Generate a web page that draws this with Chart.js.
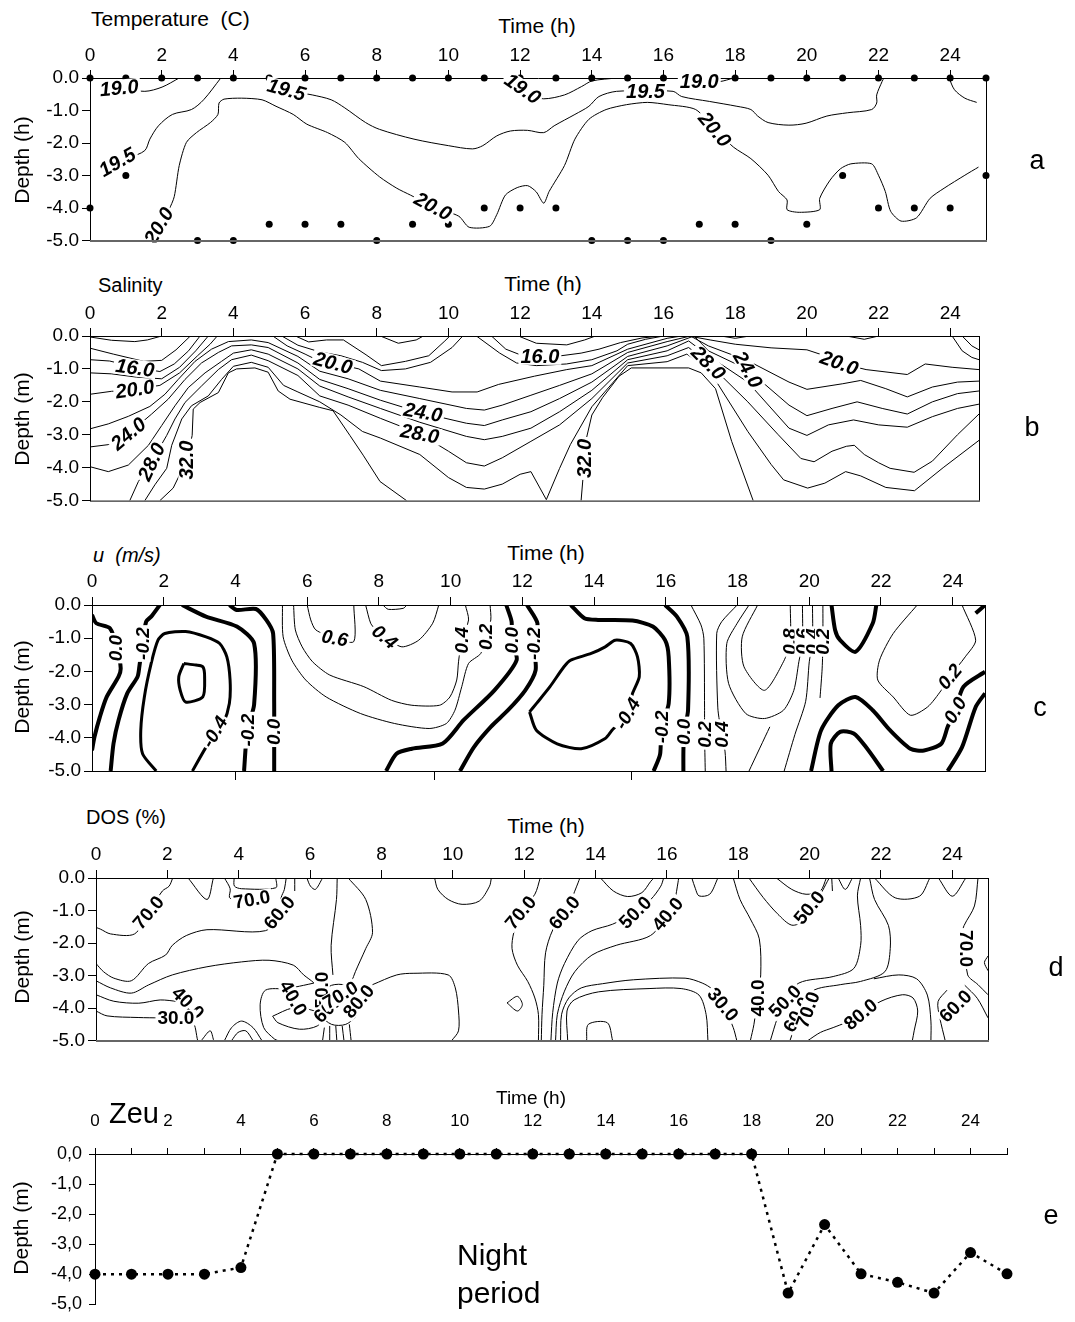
<!DOCTYPE html>
<html>
<head>
<meta charset="utf-8">
<script src="https://cdn.jsdelivr.net/npm/chart.js@4.4.1/dist/chart.umd.min.js"></script>
<style>
  body { margin: 0; background: #fff; }
  #page { position: relative; width: 1075px; height: 1322px; overflow: hidden; font-family: Arial, "Liberation Sans", sans-serif; }
  #page canvas { position: absolute; left: 0; }
  .lbl { position: absolute; white-space: nowrap; line-height: 1; color: #000; transform: translate(-50%, -50%); }
  .left { transform: translate(0, -50%); }
  .vert { transform: translate(-50%, -50%) rotate(-90deg); }
</style>
</head>
<body>
<div id="page">
  <canvas id="cA" width="1075" height="215" style="top:40px"></canvas>
  <canvas id="cB" width="1075" height="215" style="top:300px"></canvas>
  <canvas id="cC" width="1075" height="220" style="top:568px"></canvas>
  <canvas id="cD" width="1075" height="215" style="top:840px"></canvas>
  <canvas id="cE" width="1075" height="217" style="top:1105px"></canvas>

  <div class="lbl left" style="left:91px;top:18px;font-size:21px">Temperature&nbsp;&nbsp;(C)</div>
  <div class="lbl" style="left:537px;top:25px;font-size:21px">Time (h)</div>
  <div class="lbl vert" style="left:21px;top:160px;font-size:21px">Depth (h)</div>
  <div class="lbl" style="left:1037px;top:160px;font-size:27px">a</div>

  <div class="lbl left" style="left:98px;top:285px;font-size:20px">Salinity</div>
  <div class="lbl" style="left:543px;top:283px;font-size:21px">Time (h)</div>
  <div class="lbl vert" style="left:21px;top:419px;font-size:21px">Depth (m)</div>
  <div class="lbl" style="left:1032px;top:427px;font-size:27px">b</div>

  <div class="lbl left" style="left:93px;top:555px;font-size:20px;font-style:italic">u&nbsp;&nbsp;(m/s)</div>
  <div class="lbl" style="left:546px;top:552px;font-size:21px">Time (h)</div>
  <div class="lbl vert" style="left:21px;top:687px;font-size:21px">Depth (m)</div>
  <div class="lbl" style="left:1040px;top:707px;font-size:27px">c</div>

  <div class="lbl left" style="left:86px;top:817px;font-size:20px">DOS (%)</div>
  <div class="lbl" style="left:546px;top:825px;font-size:21px">Time (h)</div>
  <div class="lbl vert" style="left:21px;top:957px;font-size:21px">Depth (m)</div>
  <div class="lbl" style="left:1056px;top:967px;font-size:27px">d</div>

  <div class="lbl left" style="left:109px;top:1113px;font-size:29px">Zeu</div>
  <div class="lbl" style="left:531px;top:1097px;font-size:19px">Time (h)</div>
  <div class="lbl vert" style="left:20px;top:1228px;font-size:21px">Depth (m)</div>
  <div class="lbl left" style="left:457px;top:1255px;font-size:30px">Night</div>
  <div class="lbl left" style="left:457px;top:1293px;font-size:30px">period</div>
  <div class="lbl" style="left:1051px;top:1215px;font-size:27px">e</div>
</div>

<script>
// ---- axes ----
const timeTicks = [0, 2, 4, 6, 8, 10, 12, 14, 16, 18, 20, 22, 24];
const depthTicks = [0, -1, -2, -3, -4, -5];
const zeuHourTicks = [0,1,2,3,4,5,6,7,8,9,10,11,12,13,14,15,16,17,18,19,20,21,22,23,24,25];

// ---- a: temperature, sampling points ----
const tempSampleX = [0,1,2,3,4,5,6,7,8,9,10,11,12,13,14,15,16,17,18,19,20,21,22,23,24,25,
  0,1,3,4,5,6,7,8,9,10,11,12,13,14,15,16,17,18,19,20,21,22,23,24,25];
const tempSampleY = [0,0,0,0,0,0,0,0,0,0,0,0,0,0,0,0,0,0,0,0,0,0,0,0,0,0,
  -4,-3,-5,-5,-4.5,-4.5,-4.5,-5,-4.5,-4.5,-4,-4,-4,-5,-5,-5,-4.5,-4.5,-5,-4.5,-3,-4,-4,-4,-3];

// temperature isolines [hour, depth]
const t190a = [[0.8,-0.31],[1.53,-0.41],[2.01,-0.28],[2.49,0]];
const t195a = [[3.65,0],[3.17,-0.67],[2.83,-0.97],[2.3,-1.12],[1.91,-1.47],[1.67,-1.88],[1.53,-2.23],[1.1,-2.45],[0.76,-2.59]];
const t200a = [[1.75,-5],[1.92,-4.5],[2.2,-4.05],[2.35,-3.65],[2.49,-2.69],[2.69,-1.98],[2.97,-1.68],[3.36,-1.37],[3.57,-1.12],[3.6,-0.77],[3.74,-0.65],[4.23,-0.62],[4.8,-0.67],[5.19,-0.87],[5.67,-1.12],[6.05,-1.42],[6.63,-1.68],[7.11,-1.98],[7.5,-2.48],[8.08,-3.04],[8.56,-3.39],[8.94,-3.6],[9.57,-3.95],[10.29,-4.25],[10.58,-4.59],[11.15,-4.56],[11.35,-4.2],[11.59,-3.6],[11.92,-3.37],[12.21,-3.31],[12.45,-3.5],[12.66,-3.85],[12.81,-3.49],[13.24,-2.69],[13.53,-1.88],[13.92,-1.27],[14.4,-0.97],[14.97,-0.82],[15.55,-0.75],[16.13,-0.82],[16.9,-0.97],[17.43,-1.58],[17.96,-2.13],[18.44,-2.48],[18.92,-2.99],[19.21,-3.49],[19.45,-3.75],[19.45,-4.05],[19.79,-4.13],[20.36,-4.05],[20.36,-3.7],[20.65,-3.14],[20.94,-2.79],[21.23,-2.64],[21.81,-2.64],[22.0,-2.99],[22.19,-3.49],[22.34,-4.1],[22.63,-4.4],[23.06,-4.3],[23.44,-3.7],[23.83,-3.39],[24.41,-2.99],[24.79,-2.74]];
const t195b = [[5.0,0],[5.48,-0.36],[6.2,-0.52],[6.73,-0.67],[7.11,-0.92],[7.69,-1.37],[8.08,-1.58],[9.04,-1.88],[10.0,-2.08],[10.67,-2.18],[10.96,-2.08],[11.35,-1.78],[11.73,-1.63],[12.21,-1.61],[12.66,-1.68],[12.95,-1.47],[13.53,-1.12],[13.92,-0.87],[14.2,-0.57],[14.69,-0.41],[15.5,-0.41],[16.27,-0.41],[16.51,-0.57],[17.28,-0.72],[18.05,-0.87],[18.44,-0.97],[18.63,-1.17],[18.92,-1.37],[19.5,-1.45],[19.98,-1.39],[20.56,-1.17],[21.13,-1.07],[21.81,-0.97],[21.95,-0.77],[21.95,-0.52],[22.1,-0.11],[22.15,0]];
const t190b = [[11.7,0],[12.07,-0.36],[12.28,-0.52],[12.66,-0.64],[13.24,-0.52],[13.72,-0.26],[14.01,-0.09],[14.69,0]];
const t190c = [[16.5,0],[17.0,-0.11],[17.57,-0.11],[17.96,0]];
const t190d = [[23.97,0],[24.12,-0.36],[24.41,-0.62],[24.74,-0.75]];
const tempLabels = [[0.81,-0.31,'19.0'],[0.76,-2.59,'19.5'],[1.92,-4.55,'20.0'],[5.48,-0.36,'19.5'],[9.57,-3.95,'20.0'],[12.07,-0.33,'19.0'],[15.5,-0.41,'19.5'],[17.0,-0.11,'19.0'],[17.43,-1.58,'20.0']];

// ---- b: salinity isolines ----
const s12a = [[0,-0.03],[0.6,-0.13],[1.25,-0.17],[1.6,-0.12],[2.0,0]];
const s14a = [[0,-0.37],[0.65,-0.55],[1.5,-0.77],[2.0,-0.74],[2.4,-0.42],[2.8,0]];
const s16a = [[0,-0.72],[0.55,-0.76],[1.25,-0.95],[1.95,-1.08],[2.35,-0.85],[2.75,-0.45],[3.07,0]];
const s18a = [[0,-1.12],[0.6,-1.15],[1.3,-1.25],[2.0,-1.3],[2.5,-0.95],[2.95,-0.45],[3.3,0]];
const s20a = [[0,-1.77],[0.6,-1.68],[1.25,-1.62],[1.95,-1.5],[2.5,-1.12],[3.0,-0.6],[3.35,-0.25],[3.55,0]];
const s22 = [[0,-2.82],[0.51,-2.67],[1.07,-2.44],[1.67,-2.14],[2.09,-1.77],[2.46,-1.32],[2.93,-0.77],[3.39,-0.4],[3.86,-0.17],[4.5,-0.12],[4.97,-0.2],[5.8,-0.62],[6.41,-1.07],[7.2,-1.3],[8.1,-1.65],[9.2,-1.9],[10.5,-2.2],[11.0,-2.25],[11.5,-2.1],[12.3,-1.8],[13.1,-1.5],[14.0,-1.15],[15.0,-0.5],[16.1,-0.17],[16.75,0],[17.25,-0.3],[18.35,-0.75],[19.5,-1.4],[20.0,-1.62],[21.0,-1.45],[21.5,-1.35],[22.2,-1.6],[22.8,-1.85],[23.5,-1.55],[24.2,-1.4],[24.8,-1.37]];
const s24 = [[0,-3.37],[0.51,-3.3],[1.07,-2.97],[1.72,-2.37],[2.18,-1.92],[2.65,-1.32],[3.11,-0.82],[3.58,-0.5],[3.95,-0.3],[4.5,-0.27],[4.97,-0.35],[5.8,-0.82],[6.41,-1.32],[7.2,-1.6],[8.1,-1.95],[9.2,-2.32],[10.5,-2.65],[11.0,-2.72],[11.5,-2.55],[12.3,-2.3],[13.1,-1.9],[14.0,-1.4],[15.0,-0.62],[16.1,-0.3],[16.85,0],[17.25,-0.45],[18.35,-1.02],[19.5,-2.1],[20.0,-2.42],[20.7,-2.2],[21.4,-2.0],[22.1,-2.2],[22.8,-2.37],[23.5,-2.0],[24.2,-1.75],[24.8,-1.67]];
const s26 = [[0,-3.97],[0.51,-4.12],[1.07,-3.92],[1.63,-3.32],[2.0,-2.72],[2.37,-2.12],[2.74,-1.57],[3.21,-1.12],[3.67,-0.77],[4.0,-0.52],[4.5,-0.42],[4.97,-0.55],[5.8,-1.0],[6.41,-1.52],[7.2,-1.85],[8.1,-2.2],[9.2,-2.62],[10.5,-3.05],[11.0,-3.15],[11.5,-3.05],[12.3,-2.8],[13.1,-2.3],[14.0,-1.65],[15.0,-0.72],[16.1,-0.45],[16.7,-0.15],[17.25,-0.6],[18.35,-1.4],[19.5,-2.8],[20.0,-3.02],[20.6,-2.7],[21.3,-2.55],[22.0,-2.7],[22.8,-2.77],[23.5,-2.45],[24.2,-2.2],[24.8,-2.07]];
const s28 = [[1.11,-5],[1.35,-4.42],[1.72,-3.82],[2.14,-3.02],[2.37,-2.52],[2.65,-2.02],[3.11,-1.52],[3.58,-1.02],[3.95,-0.72],[4.5,-0.58],[4.97,-0.75],[5.8,-1.2],[6.41,-1.82],[7.2,-2.1],[8.1,-2.5],[9.2,-2.97],[10.0,-3.5],[10.5,-3.85],[11.0,-3.95],[11.5,-3.7],[12.3,-3.2],[13.1,-2.7],[14.0,-1.9],[15.0,-0.82],[16.1,-0.6],[16.7,-0.35],[17.25,-0.82],[18.35,-2.0],[19.2,-3.0],[19.83,-3.72],[20.2,-3.82],[20.7,-3.5],[21.1,-3.35],[21.32,-3.32],[21.6,-3.6],[22.0,-3.85],[22.32,-4.02],[22.99,-4.14],[23.5,-3.8],[24.2,-3.0],[24.8,-2.37]];
const s30 = [[1.53,-5],[1.81,-4.52],[2.14,-4.02],[2.28,-3.32],[2.56,-2.52],[2.83,-2.12],[3.3,-1.82],[3.67,-1.32],[4.0,-0.92],[4.5,-0.8],[4.97,-0.95],[5.4,-1.5],[5.8,-1.7],[6.41,-2.0],[7.0,-2.4],[7.6,-2.9],[8.1,-3.1],[9.2,-3.6],[10.0,-4.3],[10.5,-4.6],[11.0,-4.65],[11.5,-4.5],[12.0,-4.2],[12.3,-4.12],[12.73,-4.97],[13.1,-4.02],[13.4,-3.3],[14.0,-2.15],[15.0,-0.9],[16.1,-0.78],[16.65,-0.55],[17.25,-1.0],[18.35,-2.9],[19.0,-3.9],[19.35,-4.37],[20.02,-4.62],[20.5,-4.47],[21.08,-4.12],[21.5,-4.25],[22.2,-4.6],[23.0,-4.7],[23.8,-4.0],[24.8,-3.17]];
const s32a = [[1.95,-5],[2.32,-4.62],[2.7,-3.77],[2.85,-3.02],[2.88,-2.22],[3.07,-2.02],[3.58,-1.72],[3.86,-1.12],[4.09,-1.0],[4.6,-0.97],[4.97,-1.1],[5.25,-1.67],[5.58,-1.92],[6.41,-2.17],[6.78,-2.27],[7.25,-3.02],[7.62,-3.62],[8.09,-4.42],[8.83,-5]];
const s32b = [[13.7,-5],[13.8,-3.7],[13.85,-3.1],[14.0,-2.4],[14.3,-1.87],[14.76,-1.22],[15.1,-0.97],[16.7,-0.97],[17.05,-1.12],[17.45,-1.6],[17.9,-3.2],[18.5,-5]];
const s20m = [[5.1,0],[5.5,-0.3],[6.0,-0.55],[6.41,-0.77],[6.78,-0.82],[7.5,-1.0],[8.1,-1.37],[9.2,-1.55],[10.1,-1.7],[10.8,-1.7],[11.4,-1.47],[12.4,-1.22],[13.3,-1.02],[14.0,-0.9],[15.0,-0.4],[16.1,-0.07],[16.5,0]];
const s20r = [[16.7,0],[17.3,-0.12],[18.0,-0.25],[19.0,-0.36],[20.0,-0.42],[20.5,-0.6],[20.9,-0.82],[21.65,-1.02],[22.8,-1.17],[23.3,-0.85],[24.05,-0.95],[24.8,-1.02]];
const s18m = [[5.35,0],[5.8,-0.28],[6.4,-0.48],[7.0,-0.6],[7.6,-0.8],[8.13,-1.05],[8.8,-1.0],[9.5,-0.8],[10.1,-0.35],[10.4,0]];
const s18r = [[10.78,0],[11.43,-0.52],[11.9,-0.82],[12.45,-0.9],[13.29,-0.85],[14.0,-0.72],[14.7,-0.45],[15.0,-0.25],[15.5,-0.1],[16.0,0]];
const s16v = [[5.73,0],[6.1,-0.18],[6.6,-0.12],[7.07,-0.12],[7.7,-0.57],[8.13,-0.9],[8.8,-0.77],[9.45,-0.6],[9.9,-0.15],[10.04,0]];
const s16c = [[11.2,0],[11.6,-0.4],[12.0,-0.57],[12.55,-0.62],[13.0,-0.62],[13.7,-0.52],[14.2,-0.4],[14.8,-0.2],[15.4,-0.06],[15.9,0]];
const s14c = [[11.95,0],[12.45,-0.22],[13.3,-0.27],[13.8,-0.12],[14.1,0]];
const s12b = [[8.1,0],[8.6,-0.22],[9.1,-0.12],[9.3,0]];
const s12c = [[17.6,0],[18.0,-0.07],[18.4,0]];
const s12d = [[21.1,0],[21.6,-0.1],[22.0,0]];
const s16r = [[24.05,0],[24.33,-0.45],[24.6,-0.65],[24.8,-0.72]];
const s14r = [[24.33,0],[24.6,-0.3],[24.8,-0.42]];
const salLabels = [[1.25,-0.97,'16.0'],[1.25,-1.62,'20.0'],[1.07,-2.97,'24.0'],[1.72,-3.82,'28.0'],[2.7,-3.77,'32.0'],[6.78,-0.82,'20.0'],[9.29,-2.32,'24.0'],[9.2,-2.97,'28.0'],[12.55,-0.62,'16.0'],[13.8,-3.72,'32.0'],[17.25,-0.82,'28.0'],[18.35,-1.02,'24.0'],[20.9,-0.82,'20.0']];

// ---- c: u velocity isolines ----
const u00a = [[0,-0.3],[0.12,-0.55],[0.5,-0.7],[0.7,-1.3],[0.8,-1.9],[0.74,-2.16],[0.41,-2.77],[0.22,-3.37],[0.07,-3.97],[0,-4.38]];
const um02a = [[1.89,0],[1.65,-0.35],[1.51,-0.5],[1.41,-1.16],[1.32,-1.86],[1.27,-2.16],[0.98,-2.67],[0.74,-3.47],[0.6,-4.17],[0.52,-5]];
const um04a = [[1.79,-5],[1.41,-4.48],[1.36,-3.77],[1.46,-2.77],[1.65,-1.76],[1.84,-1.06],[2.03,-0.86],[2.61,-0.8],[3.18,-0.96],[3.56,-1.16],[3.76,-1.56],[3.85,-2.26],[3.83,-2.97],[3.66,-3.57],[3.42,-3.9],[3.18,-4.28],[2.8,-5]];
const um06 = [[2.56,-1.76],[2.9,-1.81],[3.09,-1.86],[3.14,-2.16],[3.09,-2.77],[2.61,-2.92],[2.46,-2.57],[2.42,-2.16],[2.56,-1.76]];
const um02b = [[2.51,0],[3.18,-0.35],[4.04,-0.65],[4.52,-1.16],[4.52,-3.0],[4.33,-3.77],[4.24,-5]];
const u00b = [[3.83,0],[4.04,-0.15],[4.57,-0.12],[4.86,-0.45],[5.05,-0.86],[5.08,-2.97],[5.08,-3.82],[5.08,-5]];
const up02a = [[5.31,0],[5.33,-0.96],[5.57,-1.66],[5.96,-2.26],[6.53,-2.77],[7.49,-3.27],[8.44,-3.57],[9.4,-3.72],[9.88,-3.57],[10.12,-3.17],[10.31,-2.46],[10.5,-1.76],[10.84,-1.46],[10.98,-0.96],[11.12,-0.45],[11.1,0]];
const up04a = [[5.62,0],[5.67,-0.75],[5.86,-1.26],[6.15,-1.71],[6.63,-2.11],[7.58,-2.46],[8.35,-2.87],[8.92,-3.02],[9.69,-3.02],[9.98,-2.77],[10.17,-2.26],[10.22,-1.71],[10.31,-1.06],[10.5,-0.45],[10.41,0]];
const up06a = [[6.0,0],[6.1,-0.45],[6.24,-0.75],[6.77,-1.0],[7.3,-1.1],[7.3,0]];
const up04b = [[7.63,0],[7.77,-0.55],[7.92,-0.75],[8.16,-0.96],[8.64,-1.26],[9.11,-1.06],[9.5,-0.55],[9.67,0]];
const up06b = [[8.11,0],[8.26,-0.13],[8.68,-0.1],[8.78,0]];
const u00c = [[11.55,0],[11.7,-0.5],[11.7,-1.06],[11.84,-1.66],[11.22,-2.57],[10.36,-3.47],[9.78,-4.17],[8.92,-4.33],[8.49,-4.48],[8.2,-5]];
const um02c = [[12.13,0],[12.42,-0.55],[12.32,-1.16],[12.37,-1.96],[12.08,-2.57],[11.6,-3.17],[11.12,-3.67],[10.65,-4.28],[10.26,-5]];
const um04b = [[12.2,-3.22],[12.39,-3.77],[12.97,-4.18],[13.64,-4.33],[14.31,-4.02],[14.5,-3.77],[14.93,-3.27],[15.07,-2.67],[15.26,-2.16],[15.21,-1.56],[15.02,-1.16],[14.59,-1.06],[14.31,-1.26],[13.92,-1.46],[13.35,-1.66],[13.16,-1.86],[12.77,-2.46],[12.39,-2.97],[12.2,-3.22]];
const um02d = [[13.35,0],[13.73,-0.4],[14.11,-0.45],[15.07,-0.47],[15.64,-0.65],[15.98,-1.06],[16.08,-1.56],[16.08,-2.97],[15.88,-3.67],[15.84,-4.5],[15.66,-5]];
const u00d = [[15.98,0],[16.31,-0.35],[16.6,-0.96],[16.62,-3.17],[16.51,-3.82],[16.49,-4.43],[16.49,-5]];
const up02b = [[16.7,0],[16.98,-0.6],[17.06,-1.0],[17.08,-3.1],[17.08,-3.9],[17.1,-5]];
const up04c = [[17.99,0],[17.56,-0.5],[17.42,-0.85],[17.45,-3.1],[17.56,-3.9],[17.65,-4.4],[17.68,-5]];
const up06c = [[18.32,0],[17.99,-0.55],[17.7,-1.16],[17.75,-2.36],[18.23,-3.27],[18.75,-3.42],[19.28,-3.17],[19.57,-2.57],[19.71,-1.71],[19.81,-1.1],[19.81,0]];
const up08 = [[18.56,0],[18.13,-0.96],[18.18,-1.86],[18.75,-2.57],[19.28,-1.71],[19.47,-1.1],[19.47,0]];
const up04d = [[20.09,0],[20.09,-1.1],[20.0,-1.71],[19.9,-2.9],[19.6,-3.9],[19.3,-5]];
const up02c = [[20.38,0],[20.38,-1.1],[20.36,-1.9],[20.3,-2.8]];
const up04e = [[18.32,-5],[18.9,-3.67]];
const u00e = [[20.62,0],[20.72,-0.75],[20.86,-1.06],[21.29,-1.41],[21.77,-0.55],[21.87,0]];
const u00f = [[20.05,-5],[20.33,-3.77],[20.81,-3.02],[21.29,-2.77],[21.77,-3.17],[22.25,-3.77],[22.82,-4.33],[23.2,-4.38],[23.68,-4.18],[23.86,-3.67],[24.07,-3.17],[24.3,-2.46],[24.9,-2.01]];
const um02e = [[20.62,-5],[20.6,-4.18],[20.86,-3.82],[21.24,-3.87],[21.58,-4.28],[22.06,-5]];
const um02f = [[23.86,-5],[24.26,-4.28],[24.64,-3.07],[24.9,-2.66]];
const u00g = [[24.64,-0.25],[24.9,0]];
const up02d = [[23.01,0],[22.34,-0.86],[21.96,-1.66],[21.91,-2.26],[22.34,-2.77],[22.82,-3.32],[23.3,-3.07],[23.68,-2.57],[23.92,-2.16],[24.35,-1.56],[24.64,-1.06],[24.26,0]];
const uLabels = [[0.65,-1.3,'0.0'],[1.41,-1.16,'-0.2'],[3.42,-3.82,'-0.4'],[4.33,-3.77,'-0.2'],[5.08,-3.82,'0.0'],[6.77,-1.0,'0.6'],[8.16,-0.96,'0.4'],[10.31,-1.06,'0.4'],[10.98,-0.96,'0.2'],[11.7,-1.06,'0.0'],[12.32,-1.16,'-0.2'],[14.93,-3.27,'-0.4'],[15.88,-3.67,'-0.2'],[16.51,-3.82,'0.0'],[17.08,-3.9,'0.2'],[17.56,-3.9,'0.4'],[19.47,-1.1,'0.8'],[19.81,-1.1,'0.6'],[20.09,-1.1,'0.4'],[20.38,-1.1,'0.2'],[23.92,-2.16,'0.2'],[24.07,-3.17,'0.0']];
const uBottomMarks = [4, 9.55, 15.05];

// ---- d: DOS isolines ----
const d70a = [[2.15,0],[2.05,-0.25],[1.86,-0.4],[1.47,-1.06],[1.08,-1.72],[0.41,-1.72],[0.12,-1.57],[0,-1.52]];
const dDipA = [[2.58,0],[3.11,-0.66],[3.29,0]];
const d70b = [[3.6,0],[3.76,-0.33],[3.74,-0.6],[3.85,-0.66]];
const dBoxA = [[3.87,0],[3.88,-0.25],[4.08,-0.33],[5.04,-0.3],[5.04,0]];
const d60a = [[5.33,0],[5.28,-0.35],[5.19,-0.6],[5.14,-1.06],[4.75,-1.62],[3.11,-1.59],[2.53,-1.77],[2.14,-2.07],[1.95,-2.37],[1.47,-2.63],[0.99,-3.16],[0.5,-3.08],[0.21,-2.88],[0,-2.63]];
const dVert = [[5.57,0],[5.57,-0.4]];
const d50a = [[0,-3.16],[0.41,-3.38],[0.99,-3.54],[1.47,-3.29],[2.14,-2.98],[3.11,-2.73],[4.08,-2.58],[4.85,-2.53],[5.53,-2.68],[5.82,-2.98],[6.11,-3.23],[6.3,-3.5]];
const d40a = [[0,-3.59],[0.5,-3.79],[1.2,-3.85],[1.8,-3.75],[2.3,-3.8],[2.58,-3.84],[2.9,-4.1]];
const d30a = [[0,-4.09],[0.31,-4.24],[1.18,-4.29],[1.8,-4.3],[2.24,-4.29],[2.7,-4.4],[2.85,-5]];
const dBump1 = [[2.95,-5],[3.2,-4.7],[3.3,-5]];
const dBump2 = [[3.6,-5],[3.8,-4.6],[4.08,-4.4],[4.4,-4.6],[4.65,-5]];
const dBump3 = [[3.8,-5],[3.98,-4.75],[4.2,-4.7],[4.4,-5]];
const dC0 = [[6.11,-3.23],[5.82,-3.3],[5.35,-3.4],[4.75,-3.45],[4.6,-3.9],[4.7,-4.6],[5.0,-4.95],[5.1,-5]];
const dEll = [[4.95,-4.25],[5.5,-4.0],[6.0,-4.05],[6.4,-4.25],[6.2,-4.55],[5.7,-4.65],[5.1,-4.45],[4.95,-4.25]];
const dC1 = [[6.2,-3.6],[6.6,-3.3],[7.0,-3.3],[7.3,-3.6],[7.3,-4.2],[7.0,-4.5],[6.6,-4.5],[6.3,-4.2],[6.2,-3.6]];
const dF1 = [[6.35,-5],[6.4,-4.6]];
const dF2 = [[6.55,-5],[6.55,-4.55]];
const dF3 = [[6.75,-5],[6.72,-4.55]];
const dF4 = [[6.95,-5],[6.9,-4.55]];
const dF5 = [[7.15,-5],[7.1,-4.5]];
const dUp80 = [[6.64,-2.98],[6.59,-2.07],[6.74,-0.66],[6.76,0]];
const dUp70 = [[7.07,0],[7.56,-0.66],[7.75,-1.67],[7.56,-2.17],[7.27,-2.88],[7.17,-3.18]];
const d50g = [[7.75,-3.28],[8.43,-2.98],[8.91,-2.93],[9.87,-2.98],[10.07,-3.38],[10.16,-4.09],[10.16,-4.7],[9.97,-5.0]];
const dTopU0 = [[5.91,0],[6.01,-0.25],[6.15,-0.35],[6.35,0]];
const dTopLoop = [[9.49,0],[9.58,-0.35],[9.87,-0.66],[10.26,-0.81],[10.74,-0.71],[11.03,-0.25],[11.08,0]];
const d70c = [[12.45,0],[12.3,-0.5],[11.9,-1.06],[11.71,-1.67],[11.66,-2.17],[11.81,-2.68],[12.1,-3.18],[12.3,-3.69],[12.4,-4.2],[12.4,-5]];
const dDiamond = [[11.52,-3.84],[11.81,-3.64],[11.95,-3.89],[11.81,-4.09],[11.52,-3.84]];
const d60c = [[13.56,0],[13.51,-0.15],[13.32,-0.66],[13.13,-1.06],[12.8,-1.6],[12.6,-2.3],[12.55,-3.3],[12.5,-4.2],[12.48,-5]];
const d50c = [[15.91,0],[15.83,-0.25],[15.55,-0.66],[15.11,-1.06],[14.48,-1.42],[13.9,-1.62],[13.51,-1.92],[13.13,-2.63],[12.93,-3.23],[12.8,-4.14],[12.75,-5]];
const d40c = [[16.33,0],[16.31,-0.15],[16.22,-0.66],[16.02,-1.11],[15.54,-1.77],[14.58,-2.07],[13.9,-2.37],[13.42,-2.88],[13.13,-3.48],[12.93,-4.19],[12.88,-5]];
const dTopU1 = [[14.14,0],[14.5,-0.4],[14.9,-0.57],[15.3,-0.45],[15.55,-0.1],[15.64,0]];
const dTopU2 = [[16.7,0],[16.8,-0.33],[16.9,-0.55],[17.2,-0.5],[17.43,0]];
const d30b = [[13.02,-5],[13.05,-4.19],[13.25,-3.69],[13.6,-3.38],[14.2,-3.25],[15.06,-3.13],[16.51,-3.08],[16.99,-3.23],[17.28,-3.43],[17.57,-3.89],[17.86,-4.6],[17.96,-5]];
const d30c = [[13.22,-5],[13.2,-4.09],[13.4,-3.75],[14.09,-3.5],[15.5,-3.4],[16.4,-3.4],[16.9,-3.6],[17.1,-4.2],[17.15,-5]];
const dBump4 = [[13.75,-5],[13.8,-4.5],[14.33,-4.45],[14.48,-5]];
const d40d = [[17.86,0],[18.05,-0.66],[18.34,-1.26],[18.59,-1.87],[18.63,-2.98],[18.54,-3.69],[18.44,-4.5],[18.34,-5]];
const d50e = [[18.3,0],[18.7,-0.6],[19.1,-1.1],[19.5,-1.45],[19.85,-1.3],[19.99,-0.91],[20.3,-0.5],[20.5,-0.1],[20.55,0]];
const dTopU3 = [[19.07,0],[19.5,-0.35],[19.9,-0.5],[20.3,-0.4],[20.47,0]];
const dSmall1 = [[20.62,0],[20.64,-0.4]];
const dSmall2 = [[20.8,0],[21.0,-0.35],[21.2,0]];
const d50f = [[18.9,-5],[19.1,-4.3],[19.31,-3.79],[19.7,-3.23],[20.66,-3.03],[21.24,-2.78],[21.43,-2.07],[21.43,-1.46],[21.34,-0.55],[21.43,0]];
const d70f = [[19.45,-5],[19.65,-4.4],[19.89,-4.09],[20.08,-3.48],[20.86,-3.28],[21.43,-3.18],[22.11,-2.88],[22.26,-2.17],[22.21,-1.46],[21.82,-0.66],[21.68,0]];
const d80 = [[19.95,-5],[20.3,-4.75],[20.66,-4.6],[21.0,-4.45],[21.43,-4.19],[22.0,-3.79],[22.6,-3.59],[22.9,-3.69],[23.03,-4.09],[22.93,-4.7],[22.88,-5]];
const d70g = [[21.8,-3.1],[22.5,-2.98],[23.0,-3.1],[23.3,-3.6],[23.4,-4.4],[23.4,-5]];
const d70h = [[24.72,0],[24.62,-0.86],[24.33,-1.46],[24.29,-1.67],[24.38,-2.17],[24.43,-2.98],[24.72,-3.28],[25,-3.59]];
const d60g = [[23.8,-5],[23.65,-4.3],[23.6,-3.8],[23.85,-3.45]];
const d60h = [[24.35,-3.3],[24.7,-3.7],[25,-4.3]];
const dTopV24 = [[23.61,0],[24.0,-0.56],[24.38,0]];
const dTopU4 = [[21.82,0],[22.4,-0.61],[23.08,-0.56],[23.37,0]];
const dEdge = [[25,-2.4],[24.9,-2.6],[25,-2.85]];
const dosLabels = [[1.47,-1.06,'70.0'],[4.37,-0.66,'70.0'],[5.14,-1.06,'60.0'],[2.58,-3.84,'40.0'],[2.24,-4.29,'30.0'],[5.53,-3.69,'40.0'],[6.33,-3.45,'50.0'],[6.55,-3.95,'60.0'],[6.85,-3.6,'70.0'],[7.36,-3.79,'80.0'],[11.9,-1.06,'70.0'],[13.13,-1.06,'60.0'],[15.11,-1.06,'50.0'],[16.02,-1.11,'40.0'],[17.57,-3.89,'30.0'],[18.54,-3.69,'40.0'],[19.31,-3.79,'50.0'],[19.65,-4.2,'60.0'],[19.95,-4.05,'70.0'],[21.43,-4.19,'80.0'],[19.99,-0.91,'50.0'],[24.38,-2.17,'70.0'],[24.09,-3.94,'60.0']];

// ---- e: euphotic depth ----
const zeuHours = [0,1,2,3,4,5,6,7,8,9,10,11,12,13,14,15,16,17,18,19,20,21,22,23,24,25];
const zeuDepth = [-4,-4,-4,-4,-3.78,0,0,0,0,0,0,0,0,0,0,0,0,0,0,-4.63,-2.35,-3.99,-4.27,-4.63,-3.28,-3.99];

// label rotations (degrees, clockwise)
const tempLabelRot = [-5, -30, -60, 15, 28, 35, 0, 0, 50];
const salLabelRot = [8, -8, -40, -65, -90, 15, 10, 10, 0, -90, 45, 60, 20];
const uLabelRot = [-90, -90, -60, -90, -90, 10, 40, -90, -90, -90, -90, -60, -90, -90, -90, -90, -90, -90, -90, -90, -50, -60];
const dosLabelRot = [-50, -10, -50, 45, 0, 60, -90, -45, -30, -50, -50, -50, -45, -50, 50, -90, -45, -60, -70, -40, -50, 90, -45];

const FONT = 'Arial, "Liberation Sans", sans-serif';

function pts(a) { return a.map(p => ({ x: p[0], y: p[1] })); }
function iso(a, w, t) {
  return { data: pts(a), showLine: true, borderColor: '#000', borderWidth: w, pointRadius: 0, pointHoverRadius: 0, tension: t, fill: false };
}

const contourLabels = {
  id: 'contourLabels',
  afterDatasetsDraw(chart, args, o) {
    if (!o.items) return;
    const ctx = chart.ctx, xs = chart.scales.x, ys = chart.scales.y;
    ctx.save();
    ctx.beginPath();
    ctx.rect(chart.chartArea.left - 2, chart.chartArea.top - 12, chart.chartArea.right - chart.chartArea.left + 4, chart.chartArea.bottom - chart.chartArea.top + 14);
    ctx.clip();
    o.items.forEach((it, i) => {
      ctx.save();
      ctx.translate(xs.getPixelForValue(it[0]), ys.getPixelForValue(it[1]));
      ctx.rotate((o.rot[i] || 0) * Math.PI / 180);
      ctx.font = o.font;
      const w = ctx.measureText(it[2]).width;
      ctx.fillStyle = '#fff';
      ctx.fillRect(-w / 2 - 2, -o.size * 0.42, w + 4, o.size * 0.84);
      ctx.fillStyle = '#000';
      ctx.textAlign = 'center';
      ctx.textBaseline = 'middle';
      ctx.fillText(it[2], 0, 1);
      ctx.restore();
    });
    ctx.restore();
  }
};

const frame = {
  id: 'frame',
  afterDraw(chart, args, o) {
    if (!o.on) return;
    const { ctx, chartArea: a } = chart;
    ctx.save();
    ctx.strokeStyle = '#000';
    ctx.lineWidth = 1;
    ctx.beginPath();
    ctx.moveTo(a.right + 0.5, a.top);
    ctx.lineTo(a.right + 0.5, a.bottom);
    ctx.stroke();
    ctx.strokeStyle = o.bottomColor || '#000';
    ctx.lineWidth = o.bottomWidth || 1;
    ctx.beginPath();
    ctx.moveTo(a.left, a.bottom + 0.5);
    ctx.lineTo(a.right + 1, a.bottom + 0.5);
    ctx.stroke();
    ctx.restore();
  }
};

function panel(id, cfg) {
  const scales = {
    x: {
      type: 'linear', position: 'top', min: 0, max: cfg.xMax,
      afterBuildTicks: ax => { ax.ticks = cfg.xTicks.map(v => ({ value: v })); },
      afterFit: ax => { ax.height = cfg.topH; },
      ticks: {
        autoSkip: false, maxRotation: 0, color: '#000', padding: cfg.xPad,
        font: { family: FONT, size: cfg.xFont },
        callback: v => (cfg.xLabelled.includes(v) ? String(v) : '')
      },
      grid: { drawOnChartArea: false, drawTicks: true, tickLength: cfg.xTickLen, color: '#000' },
      border: { display: true, color: '#000', width: 1 }
    },
    y: {
      type: 'linear', position: 'left', min: -5, max: 0,
      afterBuildTicks: ax => { ax.ticks = depthTicks.map(v => ({ value: v })); },
      afterFit: ax => { ax.width = cfg.left; },
      ticks: {
        color: '#000', padding: cfg.yPad, font: { family: FONT, size: cfg.yFont },
        callback: v => cfg.yFmt(v)
      },
      grid: { drawOnChartArea: false, drawTicks: true, tickLength: cfg.yTickLen, color: '#000' },
      border: { display: true, color: '#000', width: 1 }
    }
  };
  if (cfg.bottomMarks) {
    scales.x2 = {
      type: 'linear', position: 'bottom', min: 0, max: cfg.xMax,
      afterBuildTicks: ax => { ax.ticks = cfg.bottomMarks.map(v => ({ value: v })); },
      afterFit: ax => { ax.height = 10; },
      ticks: { display: true, padding: 0, font: { size: 1 }, callback: () => '' },
      grid: { drawOnChartArea: false, drawTicks: true, tickLength: 9, color: '#000' },
      border: { display: false }
    };
  }
  return new Chart(document.getElementById(id), {
    type: 'scatter',
    data: { datasets: cfg.datasets },
    options: {
      responsive: false, animation: false, devicePixelRatio: 1, events: [],
      layout: { autoPadding: false, padding: { left: 0, top: 0, right: cfg.right, bottom: cfg.bottom } },
      plugins: {
        legend: { display: false }, tooltip: { enabled: false },
        contourLabels: { items: cfg.labels, rot: cfg.rot, font: cfg.labelFont, size: cfg.labelSize },
        frame: { on: cfg.frame, bottomColor: cfg.bottomColor, bottomWidth: cfg.bottomWidth }
      },
      scales: scales
    },
    plugins: [contourLabels, frame]
  });
}

const fmt1 = v => v.toFixed(1);
const base = { xTicks: timeTicks, xLabelled: timeTicks, xFont: 19, yFont: 19, xPad: 3, xTickLen: 8, yPad: 3, yTickLen: 8, yFmt: fmt1, frame: true };

// a
panel('cA', Object.assign({}, base, {
  xMax: 25, left: 90, right: 89, topH: 38, bottom: 12, bottomColor: '#666', bottomWidth: 2,
  labels: tempLabels, rot: tempLabelRot, labelFont: 'italic bold 20px ' + FONT, labelSize: 20,
  datasets: [
    iso(t190a, 1, 0.3), iso(t195a, 1, 0.3), iso(t200a, 1, 0.25), iso(t195b, 1, 0.3),
    iso(t190b, 1, 0.3), iso(t190c, 1, 0.3), iso(t190d, 1, 0.3),
    { data: tempSampleX.map((h, i) => ({ x: h, y: tempSampleY[i] })), showLine: false, pointRadius: 3.5, pointBackgroundColor: '#000', pointBorderWidth: 0, clip: false }
  ]
}));

// b
panel('cB', Object.assign({}, base, {
  xMax: 24.8, left: 90, right: 96, topH: 36, bottom: 13,
  labels: salLabels, rot: salLabelRot, labelFont: 'italic bold 20px ' + FONT, labelSize: 20,
  datasets: [s12a, s14a, s16a, s18a, s20a, s22, s24, s26, s28, s30, s32a, s32b, s20m, s20r, s18m, s18r,
    s16v, s16c, s14c, s12b, s12c, s12d, s16r, s14r].map(a => iso(a, 1, 0))
}));

// c
const thick = [u00a, um02a, um02b, u00b, u00c, um02c, um02d, u00d, u00e, u00f, um02e, um02f, u00g];
const mid = [um04a, um06, um04b];
const thin = [up02a, up04a, up06a, up04b, up06b, up02b, up04c, up06c, up08, up04d, up02c, up04e, up02d];
panel('cC', Object.assign({}, base, {
  xMax: 24.9, left: 92, right: 90, topH: 37, bottom: 7, bottomMarks: uBottomMarks, xPad: 4,
  labels: uLabels, rot: uLabelRot, labelFont: 'italic bold 19px ' + FONT, labelSize: 19,
  datasets: thick.map(a => iso(a, 4, 0.25)).concat(mid.map(a => iso(a, 3, 0.25)), thin.map(a => iso(a, 1, 0.25)))
}));

// d
const dosLines = [d70a, dDipA, d70b, dBoxA, d60a, dVert, d50a, d40a, d30a, dBump1, dBump2, dBump3, dC0, dEll, dC1,
  dF1, dF2, dF3, dF4, dF5, dUp80, dUp70, d50g, dTopU0, dTopLoop, d70c, dDiamond, d60c, d50c, d40c, dTopU1, dTopU2,
  d30b, d30c, dBump4, d40d, d50e, dTopU3, dSmall1, dSmall2, d50f, d70f, d80, d70g, d70h, d60g, d60h, dTopV24, dTopU4, dEdge];
panel('cD', Object.assign({}, base, {
  xMax: 25, left: 96, right: 87, topH: 38, bottom: 12, xPad: 4, bottomColor: '#666', bottomWidth: 2,
  labels: dosLabels, rot: dosLabelRot, labelFont: 'bold 19px ' + FONT, labelSize: 19,
  datasets: dosLines.map(a => iso(a, 1, 0.3))
}));

// e
panel('cE', Object.assign({}, base, {
  xMax: 25, left: 95, right: 68, topH: 49, bottom: 10, frame: false,
  xTicks: zeuHourTicks, xLabelled: timeTicks, xFont: 17, xPad: 16, xTickLen: 6, yFont: 18, yPad: 7, yTickLen: 6,
  yFmt: v => v.toFixed(1).replace('.', ','),
  labels: [], rot: [], labelFont: '', labelSize: 0,
  datasets: [{
    data: zeuHours.map((h, i) => ({ x: h, y: zeuDepth[i] })), showLine: true, borderColor: '#000', borderWidth: 2.5,
    borderDash: [3, 5], pointRadius: 5.5, pointBackgroundColor: '#000', pointBorderWidth: 0, tension: 0, clip: false
  }]
}));
</script>
</body>
</html>
